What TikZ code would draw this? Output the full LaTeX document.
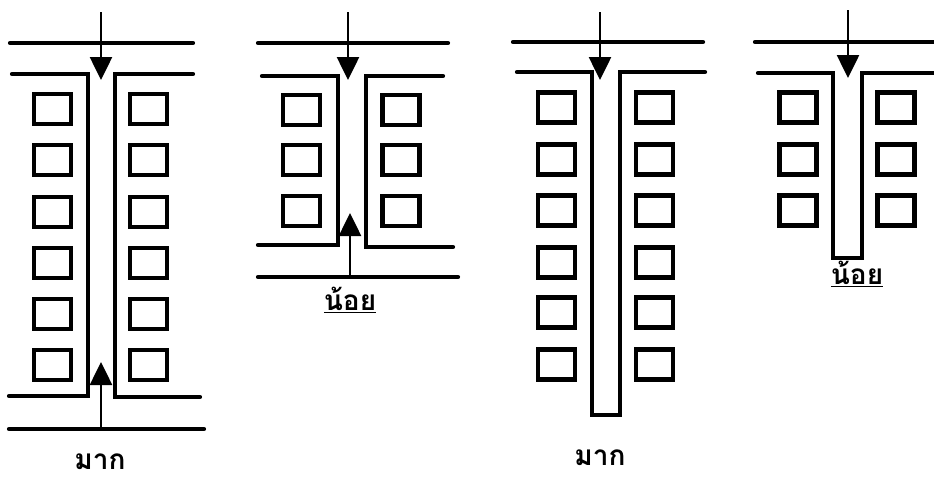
\documentclass[tikz,border=0pt]{standalone}
\usepackage{fontspec}
\newfontfamily\thaifont[Script=Thai]{Loma}
\usetikzlibrary{calc, positioning, arrows.meta}
\tikzset{
    wall/.style = {line width=4.2pt, line cap=round, line join=miter},% walls and street edges
    room/.style = {rectangle, draw, line width=4.8pt, minimum width=37pt, minimum height=30pt, inner sep=0pt},
    flow/.style = {line width=2.6pt, -{Triangle[width=22pt,length=23pt]}},
    lbl/.style = {font=\thaifont\bfseries\fontsize{28}{30}\selectfont, inner sep=0pt}
}
\begin{document}
\begin{tikzpicture}[x=1pt, y=-1pt]
        \useasboundingbox (0,0) rectangle (934,485);

        %rooms

        \foreach \i/\y in {1/109,2/160,3/212,4/263,5/314,6/365}{
            \node[room] (a\i) at (52.5,\y) {};
            \node[room] (b\i) at (148.5,\y) {};
        }
        \foreach \i/\y in {1/110,2/160,3/211}{
            \node[room] (c\i) at (301.5,\y) {};
            \node[room] (d\i) at (401,\y) {};
        }
        \foreach \i/\y in {1/107.5,2/159.5,3/210.5,4/262.5,5/312.5,6/364.5}{
            \node[room] (e\i) at (556.5,\y) {};
            \node[room] (f\i) at (654.5,\y) {};
        }
        \foreach \i/\y in {1/107.5,2/159.5,3/210.5}{
            \node[room] (g\i) at (798,\y) {};
            \node[room] (h\i) at (896,\y) {};
        }

        %walls

        \draw[wall] (10,43) -- (193,43);
        \draw[wall] (12,74) -- (88,74) -- (88,396) -- (9,396);
        \draw[wall] (193,74) -- (115,74) -- (115,397) -- (200,397);
        \draw[wall] (9,429) -- (204,429);

        \draw[wall] (258,43) -- (448,43);
        \draw[wall] (262,76) -- (338,76) -- (338,245) -- (258,245);
        \draw[wall] (443,76) -- (366,76) -- (366,247) -- (453,247);
        \draw[wall] (258,277) -- (458,277);

        \draw[wall] (513,42) -- (703,42);
        \draw[wall] (517,72) -- (592,72) -- (592,415) -- (620,415) -- (620,72) -- (705,72);

        \draw[wall] (755,42) -- (934,42);
        \draw[wall] (758,73) -- (833,73) -- (833,258) -- (862,258) -- (862,73) -- (934,73);

        %arrows

        \coordinate (s1) at (101,12);  \coordinate (t1) at (101,80);
        \coordinate (s2) at (101,429); \coordinate (t2) at (101,362);
        \coordinate (s3) at (348,12);  \coordinate (t3) at (348,80);
        \coordinate (s4) at (350,277); \coordinate (t4) at (350,213);
        \coordinate (s5) at (600,12);  \coordinate (t5) at (600,80);
        \coordinate (s6) at (848,10);  \coordinate (t6) at (848,78);
        \draw[flow] (s1) -- (t1);
        \draw[flow] (s2) -- (t2);
        \draw[flow] (s3) -- (t3);
        \draw[flow] (s4) -- (t4);
        \draw[flow] (s5) -- (t5);
        \draw[flow] (s6) -- (t6);

        %labels

        \node[lbl] (many1) at (100,462) {มาก};
        \node[lbl] (few1) at (350,300) {\underline{น้อย}};
        \node[lbl] (many2) at (600,458) {มาก};
        \node[lbl] (few2) at (857,274) {\underline{น้อย}};
\end{tikzpicture}
\end{document}
